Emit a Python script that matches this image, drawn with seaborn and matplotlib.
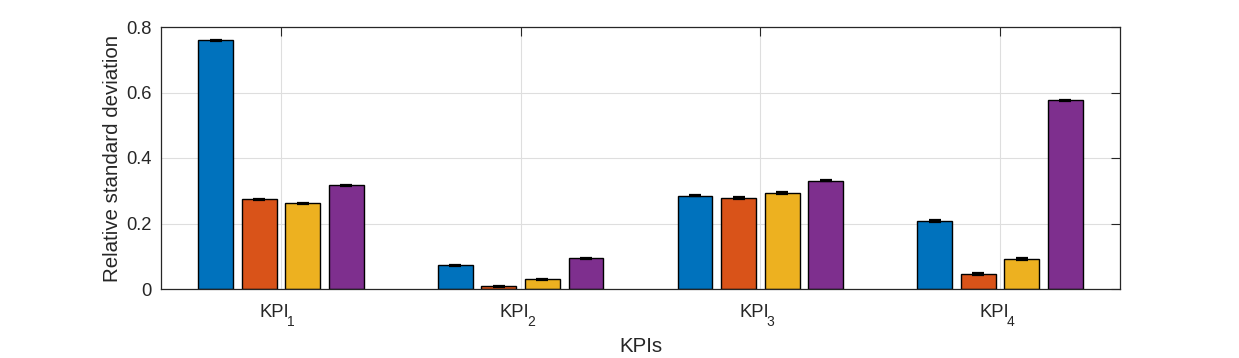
import numpy as np
import pandas as pd
import matplotlib
matplotlib.use("Agg")
import matplotlib.pyplot as plt
import matplotlib.transforms as mtransforms
import seaborn as sns

categories = ["KPI1", "KPI2", "KPI3", "KPI4"]
tick_main = ["KPI", "KPI", "KPI", "KPI"]
tick_sub = ["1", "2", "3", "4"]
series_names = ["S1", "S2", "S3", "S4"]
s1 = [0.759, 0.072, 0.285, 0.208]
s2 = [0.274, 0.008, 0.278, 0.046]
s3 = [0.262, 0.030, 0.293, 0.092]
s4 = [0.317, 0.094, 0.331, 0.576]
err1 = [0.002, 0.002, 0.002, 0.002]
err2 = [0.002, 0.002, 0.002, 0.002]
err3 = [0.002, 0.002, 0.002, 0.002]
err4 = [0.002, 0.002, 0.002, 0.002]
colors = ["#0072BD", "#D95319", "#EDB120", "#7E2F8E"]

sns.set_style("white")
plt.rcParams["font.family"] = ["Liberation Sans", "DejaVu Sans"]

vals = [s1, s2, s3, s4]
errs = [err1, err2, err3, err4]
rows = []
for name, v in zip(series_names, vals):
    for c, y in zip(categories, v):
        rows.append({"KPI": c, "series": name, "value": y})
df = pd.DataFrame(rows)

fig = plt.figure(figsize=(12.39, 3.58), dpi=100)
ax = fig.add_axes([161/1239, 1 - 289/358, (1120-161)/1239, (289-27)/358])

sns.barplot(data=df, x="KPI", y="value", hue="series", order=categories,
            hue_order=series_names, palette=colors, width=0.727, gap=0.2,
            edgecolor="black", linewidth=1.0, errorbar=None, legend=False,
            saturation=1, ax=ax)

ax.set_axisbelow(True)
ax.grid(True, axis="both", color="#dedede", linewidth=0.8)

# error bars at bar centers
for cont, e in zip(ax.containers, errs):
    xs = [p.get_x() + p.get_width() / 2 for p in cont.patches]
    ys = [p.get_height() for p in cont.patches]
    ax.errorbar(xs, ys, yerr=e, fmt="none", ecolor="black", elinewidth=1.0,
                capsize=4.3, capthick=1.6, zorder=5)

ax.set_xlim(-0.5, 3.5)
ax.set_ylim(0, 0.8)
ax.set_yticks([0, 0.2, 0.4, 0.6, 0.8])
ax.set_yticklabels(["0", "0.2", "0.4", "0.6", "0.8"])
txtc = "#262626"
ax.tick_params(axis="both", direction="in", length=6.5, width=0.8, colors=txtc,
               labelsize=13.2, top=True, right=True, labelcolor=txtc)
ax.tick_params(axis="x", pad=10.5)
ax.tick_params(axis="y", pad=6.5)
ax.set_xticks(range(len(categories)))
ax.set_xticklabels(tick_main)
shift = mtransforms.ScaledTranslation(-4.5/72, 0, fig.dpi_scale_trans)
for lab, sub in zip(ax.get_xticklabels(), tick_sub):
    lab.set_transform(lab.get_transform() + shift)
    ax.annotate(sub, xy=(1, 0), xycoords=lab, xytext=(-1.5, -3.6),
                textcoords="offset points", ha="left", va="baseline",
                fontsize=10, color=txtc)
for sp in ax.spines.values():
    sp.set_color(txtc)
    sp.set_linewidth(0.9)
ax.set_xlabel("KPIs", fontsize=14.8, color=txtc, labelpad=11.5)
ax.set_ylabel("Relative standard deviation", fontsize=14.8, color=txtc, labelpad=3.5)

fig.savefig("out.png", dpi=100)
